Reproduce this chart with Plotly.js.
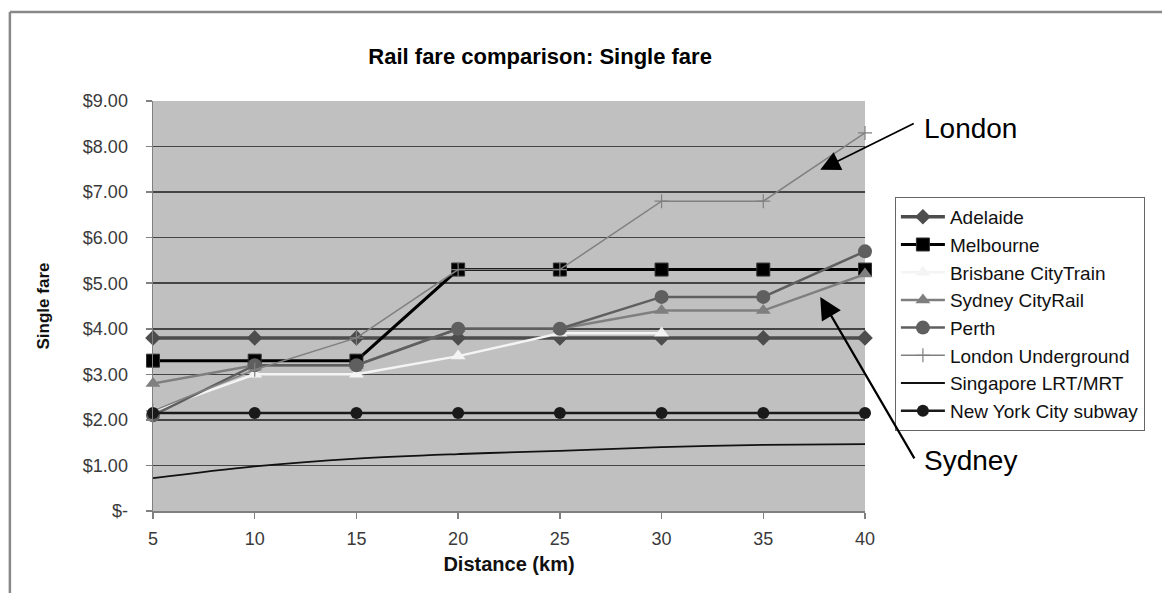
<!DOCTYPE html>
<html>
<head>
<meta charset="utf-8">
<script src="https://cdn.plot.ly/plotly-3.0.1.min.js"></script>
<style>html,body{margin:0;padding:0;background:#fff;}#chart{width:1162px;height:593px;}</style>
</head>
<body>
<div id="chart"></div>
<script>
const distances = [5, 10, 15, 20, 25, 30, 35, 40];
const adelaide  = [3.80, 3.80, 3.80, 3.80, 3.80, 3.80, 3.80, 3.80];
const melbourne = [3.30, 3.30, 3.30, 5.30, 5.30, 5.30, 5.30, 5.30];
const brisbane  = [2.20, 3.00, 3.00, 3.40, 3.90, 3.90, null, null];
const sydney    = [2.80, 3.20, 3.20, 4.00, 4.00, 4.40, 4.40, 5.20];
const perth     = [2.10, 3.20, 3.20, 4.00, 4.00, 4.70, 4.70, 5.70];
const london    = [2.20, 3.10, 3.80, 5.30, 5.30, 6.80, 6.80, 8.30];
const singapore = [0.72, 0.98, 1.15, 1.25, 1.32, 1.40, 1.45, 1.47];
const nyc       = [2.15, 2.15, 2.15, 2.15, 2.15, 2.15, 2.15, 2.15];
const yTicks = [0, 1, 2, 3, 4, 5, 6, 7, 8, 9];
const yTickLabels = ["$-", "$1.00", "$2.00", "$3.00", "$4.00", "$5.00", "$6.00", "$7.00", "$8.00", "$9.00"];

function tr(name, y, lineColor, lineWidth, marker, mode, shape) {
  return {
    x: distances, y: y, name: name, type: 'scatter', mode: mode || 'lines+markers',
    legendgroup: name,
    line: {color: lineColor, width: lineWidth, shape: shape || 'linear'},
    marker: marker, connectgaps: false, cliponaxis: false
  };
}

const data = [
  tr('Adelaide', adelaide, '#4d4d4d', 3.5, {symbol: 'diamond', size: 12, color: '#4d4d4d'}),
  tr('Melbourne', melbourne, '#000000', 3, {symbol: 'square', size: 13, color: '#000000', line: {color: '#333', width: 1}}),
  tr('Brisbane CityTrain', brisbane, '#f4f4f4', 2.5, {symbol: 'triangle-up', size: 13, color: '#f4f4f4'}),
  tr('Sydney CityRail', sydney, '#7f7f7f', 2.5, {symbol: 'triangle-up', size: 13, color: '#7f7f7f'}),
  tr('Perth', perth, '#5f5f5f', 2.5, {symbol: 'circle', size: 14, color: '#5f5f5f'}),
  tr('London Underground', london, '#808080', 1.5, {symbol: 'cross-thin-open', size: 10, line: {color: '#808080', width: 1.2}}),
  tr('Singapore LRT/MRT', singapore, '#111111', 1.8, {size: 1}, 'lines', 'spline'),
  tr('New York City subway', nyc, '#1a1a1a', 2.5, {symbol: 'circle', size: 12, color: '#1a1a1a'})
];

const layout = {
  width: 1162, height: 593,
  margin: {l: 153, r: 297, t: 101, b: 82, autoexpand: false},
  paper_bgcolor: '#ffffff',
  plot_bgcolor: '#c0c0c0',
  showlegend: true,
  font: {family: 'Arial, Liberation Sans, sans-serif', color: '#000'},
  title: {
    text: '<b>Rail fare comparison: Single fare</b>',
    font: {size: 22, color: '#000', family: 'Arial, Liberation Sans, sans-serif'},
    x: 0.317, xanchor: 'left', y: 0.905, yanchor: 'middle'
  },
  xaxis: {
    range: [5, 40], tickvals: distances, ticktext: distances.map(String),
    showgrid: false, zeroline: false,
    showline: true, linecolor: '#808080', linewidth: 1.5,
    ticks: 'outside', ticklen: 6, tickcolor: '#808080', tickwidth: 1.5,
    tickfont: {size: 18, color: '#3a3a3a'}, ticklabelstandoff: 5,
    title: {text: '<b>Distance (km)</b>', font: {size: 20, color: '#111'}, standoff: 9},
    fixedrange: true
  },
  yaxis: {
    range: [0, 9], tickvals: yTicks, ticktext: yTickLabels,
    showgrid: true, gridcolor: '#444444', gridwidth: 1.5,
    zeroline: false,
    showline: true, linecolor: '#808080', linewidth: 1.5,
    ticks: 'outside', ticklen: 6, tickcolor: '#808080', tickwidth: 1.5,
    tickfont: {size: 18, color: '#3a3a3a'}, ticklabelstandoff: 14,
    title: {text: '<b>Single fare</b>', font: {size: 17, color: '#111'}, standoff: 29},
    fixedrange: true
  },
  legend: {
    x: 1.042, y: 0.766, xanchor: 'left', yanchor: 'top',
    bgcolor: '#ffffff', bordercolor: '#666', borderwidth: 1,
    font: {size: 19, color: '#111'},
    tracegroupgap: 0, itemwidth: 44
  },
  shapes: [
    {type: 'line', xref: 'paper', yref: 'paper', x0: -0.201, x1: 1.42, y0: 1.217, y1: 1.217, line: {color: '#888', width: 2.5}},
    {type: 'line', xref: 'paper', yref: 'paper', x0: -0.201, x1: -0.201, y0: 1.217, y1: -0.21, line: {color: '#888', width: 2.5}}
  ],
  annotations: [
    {x: 37.8, y: 7.49, xref: 'x', yref: 'y', text: '', showarrow: true, arrowhead: 2, arrowsize: 2.2, arrowwidth: 1.8, arrowcolor: '#000', ax: 95, ay: -47},
    {x: 37.8, y: 4.70, xref: 'x', yref: 'y', text: '', showarrow: true, arrowhead: 2, arrowsize: 2.0, arrowwidth: 2.2, arrowcolor: '#000', ax: 95, ay: 163},
    {x: 1.080, y: 0.934, xref: 'paper', yref: 'paper', xanchor: 'left', yanchor: 'middle', text: 'London', showarrow: false, font: {size: 28, color: '#000'}},
    {x: 1.080, y: 0.122, xref: 'paper', yref: 'paper', xanchor: 'left', yanchor: 'middle', text: 'Sydney', showarrow: false, font: {size: 28, color: '#000'}}
  ]
};

Plotly.newPlot('chart', data, layout, {displayModeBar: false, staticPlot: true});
</script>
</body>
</html>
